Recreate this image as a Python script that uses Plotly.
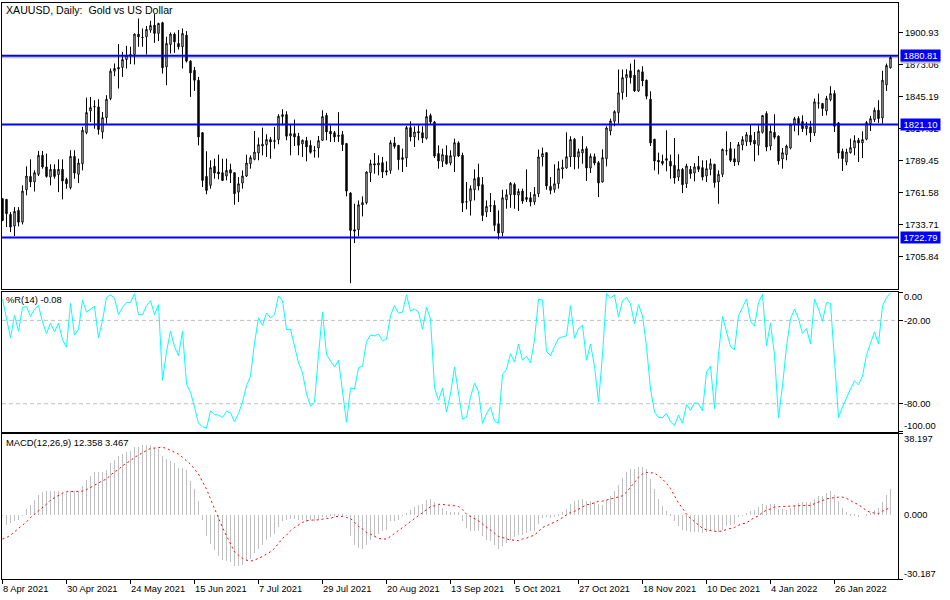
import plotly.graph_objects as go

# XAUUSD daily bars
opens = [
    1756.5,1755.9,1742.8,1732.7,1746.3,1736.1,1764.3,1775.9,1771.0,1777.7,
    1794.2,1784.1,1775.3,1782.0,1777.4,1782.0,1773.3,1766.1,1793.3,1777.7,
    1786.9,1813.9,1832.8,1836.3,1836.3,1814.5,1827.0,1843.6,1867.4,1870.6,
    1870.6,1877.5,1881.9,1881.9,1899.6,1896.9,1897.3,1903.1,1907.4,1900.2,
    1909.5,1871.1,1890.6,1899.6,1891.5,1888.6,1898.7,1876.1,1868.2,1859.5,
    1813.9,1775.9,1768.1,1784.6,1779.7,1779.1,1776.2,1781.7,1779.1,1762.2,
    1770.1,1776.2,1786.9,1790.7,1796.2,1802.3,1803.5,1807.9,1807.0,1807.9,
    1827.9,1829.6,1811.0,1813.1,1810.8,1804.1,1807.0,1802.9,1798.3,1800.6,
    1807.3,1829.0,1815.1,1813.9,1811.6,1812.2,1804.4,1761.4,1729.5,1729.5,
    1751.2,1753.0,1779.1,1786.9,1785.8,1787.8,1780.9,1781.1,1805.0,1802.9,
    1792.2,1791.9,1818.3,1810.2,1814.8,1813.9,1809.0,1828.8,1823.2,1795.7,
    1789.0,1794.2,1787.5,1793.3,1805.0,1794.2,1753.9,1754.7,1764.3,1775.0,
    1768.7,1744.9,1750.4,1750.7,1734.7,1726.9,1755.6,1759.9,1768.9,1759.7,
    1763.1,1757.6,1757.3,1753.6,1760.8,1792.8,1796.5,1767.2,1764.6,1769.5,
    1782.3,1783.2,1792.8,1808.2,1792.8,1796.2,1800.0,1783.2,1793.0,1787.8,
    1771.0,1791.3,1815.4,1823.8,1831.4,1848.8,1861.6,1867.7,1863.9,1850.2,
    1866.8,1859.5,1843.0,1808.2,1789.9,1789.0,1791.3,1789.0,1785.5,1775.3,
    1782.0,1769.5,1782.0,1778.8,1784.6,1783.5,1776.2,1782.0,1786.4,1771.0,
    1777.7,1798.3,1800.0,1791.3,1788.4,1803.2,1806.1,1811.6,1807.3,1802.9,
    1814.2,1830.5,1802.3,1814.2,1810.8,1791.0,1794.8,1800.6,1821.2,1826.4,
    1823.5,1817.4,1818.9,1813.7,1839.8,1839.2,1832.8,1842.7,1847.9,1822.4,
    1797.7,1788.4,1796.5,1800.6,1807.3,1805.0,1808.2,1821.8,1825.3,1833.4,
    1826.7,1855.5,1870.3,
]
highs = [
    1756.5,1755.9,1744.8,1749.2,1749.2,1768.1,1784.6,1790.7,1781.1,1798.0,
    1798.0,1795.7,1786.4,1786.4,1790.7,1790.7,1774.8,1798.6,1798.6,1791.3,
    1818.9,1844.4,1845.0,1842.1,1843.0,1831.9,1846.5,1869.7,1874.0,1890.9,
    1884.2,1889.4,1888.6,1900.2,1913.2,1904.5,1906.6,1911.2,1917.0,1909.5,
    1910.3,1897.3,1901.0,1901.0,1903.1,1904.5,1902.2,1876.9,1871.1,1862.4,
    1814.5,1797.7,1789.9,1791.3,1794.8,1791.3,1791.3,1786.9,1779.4,1775.3,
    1781.1,1794.8,1794.2,1815.4,1809.6,1818.3,1812.5,1810.2,1818.9,1829.9,
    1834.3,1832.5,1821.2,1825.3,1813.7,1807.9,1810.2,1807.3,1802.3,1811.0,
    1833.4,1831.1,1820.3,1815.4,1831.7,1815.4,1805.0,1762.2,1752.1,1755.0,
    1758.5,1780.3,1790.4,1796.2,1794.2,1792.8,1789.0,1807.3,1810.2,1803.2,
    1800.0,1819.8,1823.8,1819.5,1820.3,1819.5,1834.0,1830.5,1824.1,1802.9,
    1800.0,1802.9,1798.6,1808.7,1806.4,1796.5,1771.0,1768.1,1782.0,1786.9,
    1775.3,1755.0,1761.4,1755.0,1746.3,1764.3,1764.6,1771.0,1770.4,1765.2,
    1765.2,1782.0,1762.2,1766.6,1799.2,1800.9,1796.8,1775.3,1786.4,1789.0,
    1790.4,1814.2,1810.8,1809.3,1800.0,1810.8,1802.0,1795.7,1795.7,1789.3,
    1799.4,1819.5,1826.1,1833.4,1868.8,1868.8,1869.1,1874.0,1877.5,1868.8,
    1871.7,1860.1,1849.9,1808.4,1796.5,1794.8,1816.0,1794.8,1809.3,1795.1,
    1783.2,1786.9,1784.9,1787.5,1793.6,1789.9,1789.9,1791.3,1786.9,1781.1,
    1800.0,1815.1,1805.8,1800.0,1805.8,1810.8,1814.5,1821.2,1814.5,1820.3,
    1829.0,1832.5,1820.3,1829.9,1811.6,1800.6,1803.5,1821.8,1827.6,1828.2,
    1829.0,1823.2,1824.1,1843.6,1847.9,1839.8,1845.9,1854.3,1850.8,1823.2,
    1800.0,1800.0,1808.7,1811.6,1809.3,1815.1,1824.1,1828.5,1835.7,1842.1,
    1867.7,1874.0,1880.4,
]
lows = [
    1737.0,1731.8,1727.4,1724.0,1732.4,1734.1,1759.4,1766.6,1762.8,1776.2,
    1782.6,1774.8,1768.1,1773.9,1762.2,1755.9,1765.2,1764.6,1773.9,1770.1,
    1781.1,1812.5,1823.2,1817.4,1812.2,1808.7,1821.8,1842.1,1863.0,1852.3,
    1862.4,1869.7,1873.5,1873.2,1888.6,1888.6,1881.9,1900.8,1892.0,1893.5,
    1865.3,1855.2,1882.8,1883.3,1886.2,1869.7,1874.9,1845.0,1850.2,1802.9,
    1766.6,1760.3,1765.2,1773.9,1773.3,1772.1,1772.4,1770.1,1751.2,1753.6,
    1765.2,1775.3,1782.6,1789.9,1789.9,1794.2,1792.8,1791.3,1800.0,1803.8,
    1820.3,1807.3,1794.2,1802.3,1794.2,1792.8,1789.0,1795.7,1792.2,1792.2,
    1806.7,1807.3,1805.8,1805.8,1805.8,1798.0,1758.5,1683.0,1717.9,1723.7,
    1741.1,1751.5,1771.0,1778.2,1776.8,1774.5,1776.8,1778.2,1800.0,1781.7,
    1779.7,1784.1,1806.4,1801.5,1807.3,1805.0,1807.9,1821.2,1791.9,1782.6,
    1784.1,1786.1,1785.5,1779.7,1792.8,1744.9,1747.2,1741.9,1755.0,1763.7,
    1737.0,1740.5,1744.9,1728.3,1721.1,1723.7,1747.8,1748.6,1747.8,1745.8,
    1752.1,1753.6,1749.8,1751.2,1757.9,1784.6,1764.3,1760.3,1761.7,1765.2,
    1773.9,1782.6,1784.1,1782.0,1782.6,1786.9,1771.9,1778.8,1785.5,1757.9,
    1770.7,1784.6,1811.6,1819.5,1821.8,1842.7,1845.0,1856.6,1849.4,1849.4,
    1854.3,1843.0,1802.3,1781.1,1777.7,1785.5,1780.3,1773.9,1769.5,1771.9,
    1761.4,1765.8,1773.9,1771.6,1779.7,1772.4,1771.0,1776.8,1766.1,1752.1,
    1775.3,1794.2,1788.4,1784.9,1785.5,1798.6,1802.3,1802.9,1789.0,1794.2,
    1813.1,1797.7,1798.6,1808.2,1786.1,1782.6,1789.9,1799.4,1815.1,1811.6,
    1814.5,1811.6,1805.8,1811.0,1834.9,1828.5,1829.0,1841.2,1814.5,1791.3,
    1780.6,1785.5,1795.7,1794.2,1788.4,1791.9,1807.3,1815.4,1823.2,1822.4,
    1821.8,1850.2,1869.7,
]
closes = [
    1737.6,1743.4,1731.8,1745.4,1736.1,1763.1,1776.2,1771.0,1779.1,1794.2,
    1784.1,1775.9,1782.0,1775.9,1782.0,1771.9,1769.5,1793.3,1778.8,1787.5,
    1816.0,1831.4,1835.7,1836.6,1816.6,1827.0,1843.0,1867.4,1869.7,1869.4,
    1877.5,1881.3,1881.7,1899.6,1897.3,1896.7,1903.7,1907.1,1900.2,1908.9,
    1870.3,1891.5,1899.6,1892.9,1888.6,1900.2,1876.1,1865.9,1859.5,1810.2,
    1772.4,1763.7,1783.5,1778.8,1778.0,1772.4,1781.1,1778.8,1760.8,1769.5,
    1776.2,1787.5,1792.2,1797.1,1803.5,1803.8,1807.9,1805.8,1806.4,1828.2,
    1829.6,1810.8,1813.1,1810.2,1802.9,1807.3,1801.5,1796.8,1798.1,1807.0,
    1827.9,1814.5,1812.8,1810.2,1810.8,1803.5,1763.1,1728.9,1728.3,1751.2,
    1753.0,1779.7,1786.9,1785.8,1787.5,1779.7,1779.7,1805.2,1802.0,1790.4,
    1790.7,1818.3,1810.2,1814.5,1813.7,1809.3,1827.9,1823.2,1793.6,1789.3,
    1794.8,1786.9,1793.9,1805.2,1793.6,1752.7,1753.7,1765.2,1773.9,1767.5,
    1741.9,1749.8,1750.2,1733.3,1726.6,1757.3,1759.9,1769.8,1759.9,1762.8,
    1754.4,1755.9,1753.6,1760.3,1792.8,1795.7,1767.5,1763.7,1769.5,1782.6,
    1783.5,1793.0,1807.9,1792.8,1797.4,1799.4,1783.2,1793.3,1787.5,1770.1,
    1792.2,1818.0,1824.1,1832.2,1848.5,1861.8,1864.5,1861.8,1850.2,1868.2,
    1858.9,1845.6,1805.0,1789.3,1788.4,1787.2,1789.9,1784.9,1774.5,1782.0,
    1768.7,1784.9,1778.2,1784.1,1782.0,1775.3,1782.6,1786.9,1770.4,1777.7,
    1799.4,1798.1,1789.9,1788.4,1803.5,1807.9,1812.2,1805.8,1804.1,1815.1,
    1828.8,1801.5,1815.1,1809.9,1789.3,1796.5,1802.3,1821.2,1826.1,1821.8,
    1817.4,1819.8,1813.7,1840.7,1839.6,1834.9,1843.6,1847.9,1819.5,1796.2,
    1791.3,1797.1,1800.9,1807.0,1805.0,1807.9,1822.7,1826.1,1833.4,1826.1,
    1859.5,1872.3,1879.3,
]

# Williams %R(14)
wpr = [
    -4.7,-20.0,-32.5,-16.5,-27.8,-10.6,-10.1,-17.2,-11.8,-9.4,
    -21.2,-29.4,-21.9,-28.2,-21.9,-34.1,-39.3,-7.8,-30.6,-26.6,
    -5.4,-14.1,-11.8,-9.9,-32.5,-20.0,-3.5,-1.6,-4.0,-15.8,
    -10.6,-7.1,-7.1,-0.7,-15.8,-15.8,-9.4,-5.9,-15.8,-8.7,
    -63.1,-42.4,-27.8,-38.8,-45.4,-27.8,-65.9,-71.8,-82.4,-94.1,
    -96.5,-97.7,-85.2,-87.8,-88.2,-89.9,-85.4,-86.6,-93.0,-87.1,
    -78.8,-67.1,-60.0,-36.5,-18.1,-23.5,-14.8,-18.1,-15.8,-2.4,
    -5.9,-26.6,-26.4,-37.6,-50.6,-57.6,-73.0,-81.9,-78.8,-44.7,
    -14.1,-44.7,-48.7,-53.6,-48.7,-71.8,-93.4,-68.7,-69.4,-54.1,
    -53.0,-35.3,-30.6,-31.1,-29.9,-34.6,-33.6,-16.5,-9.4,-14.8,
    -14.1,-1.6,-13.4,-11.8,-14.1,-26.4,-10.6,-18.8,-68.2,-77.6,
    -68.7,-85.9,-73.0,-53.6,-74.1,-91.1,-89.9,-75.3,-65.2,-71.3,
    -94.1,-87.1,-82.4,-92.5,-94.1,-58.8,-55.3,-44.0,-50.1,-37.0,
    -48.7,-45.9,-50.6,-34.1,-4.7,-5.4,-42.4,-45.4,-38.8,-32.9,
    -31.8,-31.1,-9.4,-32.9,-25.9,-23.5,-48.7,-37.0,-53.0,-78.8,
    -44.7,-0.7,-4.0,-1.6,-17.6,-5.9,-3.5,-8.2,-22.4,-8.7,
    -16.5,-38.8,-69.4,-85.9,-89.9,-89.9,-87.1,-93.0,-95.8,-88.2,
    -94.1,-80.5,-84.7,-79.3,-80.0,-85.2,-57.2,-53.0,-83.5,-44.7,
    -17.2,-28.2,-38.8,-41.2,-16.5,-10.6,-4.7,-20.7,-24.2,-7.1,
    -1.2,-38.4,-21.9,-44.7,-89.9,-67.1,-38.8,-18.8,-11.8,-18.8,
    -29.4,-25.9,-37.0,-4.7,-11.8,-20.7,-7.1,-7.8,-53.0,-89.9,
    -82.4,-75.3,-69.4,-63.5,-66.4,-60.0,-44.7,-36.5,-28.2,-37.0,
    -9.4,-3.5,-0.08,
]

# MACD(12,26,9)
macd_hist = [
    -0.2,-4.4,-3.6,-2.8,-2.0,-0.2,3.1,5.0,7.1,9.7,
    11.0,11.3,11.6,11.6,11.6,10.5,10.5,11.3,11.3,11.3,
    13.6,16.5,18.6,20.4,20.4,20.4,21.5,24.6,26.2,27.7,
    29.0,29.9,30.2,32.0,32.1,32.8,32.8,32.8,31.7,31.3,
    28.0,26.5,25.7,24.6,22.3,22.3,21.2,16.0,12.4,6.6,
    -2.4,-9.6,-13.3,-16.5,-19.0,-21.2,-21.6,-22.1,-24.0,-24.0,
    -23.2,-21.6,-20.5,-17.7,-15.8,-13.8,-11.4,-10.2,-8.6,-5.5,
    -2.8,-2.0,-1.7,-1.7,-2.0,-2.4,-3.3,-2.4,-2.8,-2.0,
    -0.8,-0.8,0.6,0.3,0.6,0.3,-0.2,-9.6,-13.8,-15.4,
    -15.7,-13.8,-11.8,-10.3,-8.6,-7.5,-7.1,-2.8,-2.8,-2.0,
    -0.2,1.1,2.7,3.9,5.0,5.5,7.1,7.8,6.3,5.0,
    3.4,1.9,1.4,1.4,1.4,-2.8,-6.0,-7.2,-7.2,-7.5,
    -9.9,-11.4,-11.9,-13.8,-15.7,-14.6,-13.0,-11.4,-10.3,-9.1,
    -9.1,-8.3,-7.5,-7.2,-3.9,-1.3,-0.8,-1.3,-0.8,0.8,
    1.6,3.1,5.5,6.6,7.1,7.8,6.9,6.9,6.3,5.5,
    5.0,7.4,9.2,11.6,14.4,17.7,20.5,21.9,21.9,22.7,
    22.7,21.8,17.2,12.4,7.8,4.5,2.2,0.3,-2.8,-4.9,
    -7.1,-7.5,-7.8,-7.8,-8.0,-8.5,-7.8,-7.2,-7.5,-7.7,
    -6.7,-5.2,-4.4,-4.1,-0.8,-0.2,1.1,2.2,2.7,3.9,
    5.5,5.0,5.5,5.5,3.0,3.0,2.7,3.4,4.5,5.8,
    6.1,6.3,6.1,7.7,8.9,9.2,10.5,11.6,9.7,6.6,
    3.4,1.6,0.3,0.2,-0.8,0.0,0.3,1.1,2.7,3.4,
    6.4,9.7,12.358,
]
macd_signal = [
    -11.4,-10.7,-9.6,-8.0,-6.4,-5.2,-3.3,-1.3,0.3,1.6,
    3.4,5.0,6.9,8.1,9.2,10.2,10.8,11.0,11.0,11.0,
    11.1,11.8,12.8,13.6,14.9,16.0,16.8,18.6,20.2,21.2,
    23.0,24.3,25.4,27.0,28.2,29.3,30.2,31.2,31.3,31.7,
    31.7,31.2,30.4,29.3,28.5,27.0,25.4,23.8,21.5,19.1,
    15.5,12.1,7.4,2.7,-1.3,-6.0,-9.9,-13.8,-17.4,-19.0,
    -20.5,-21.3,-21.8,-21.3,-20.5,-19.6,-18.5,-17.4,-15.8,-13.3,
    -11.1,-9.6,-7.5,-6.0,-4.7,-3.6,-2.8,-2.5,-2.4,-2.4,
    -2.0,-1.7,-1.7,-0.9,-0.8,-0.8,-1.3,-1.7,-3.6,-5.5,
    -6.7,-8.3,-9.1,-10.2,-11.1,-11.4,-11.4,-10.2,-8.8,-7.2,
    -6.0,-4.7,-3.3,-1.7,-0.2,1.1,2.5,3.8,4.2,4.9,
    4.9,4.5,4.5,4.2,3.9,2.4,0.3,-0.8,-1.7,-2.8,
    -4.4,-6.0,-7.2,-8.6,-10.2,-10.7,-11.4,-11.9,-11.9,-12.2,
    -11.4,-11.0,-10.2,-9.6,-7.8,-6.0,-5.2,-4.4,-3.6,-2.5,
    -1.3,-0.2,1.1,1.6,2.7,3.4,4.7,5.0,5.8,6.3,
    6.4,6.9,7.1,7.7,8.3,8.9,10.7,12.8,15.2,17.6,
    19.3,19.9,19.9,19.6,18.3,16.8,14.7,12.4,8.9,5.5,
    3.1,0.3,-1.7,-3.3,-5.0,-6.3,-7.1,-7.5,-7.8,-7.8,
    -7.7,-6.9,-6.4,-6.0,-4.9,-4.2,-3.9,-2.4,-1.4,-0.5,
    1.1,2.2,2.7,3.6,3.8,3.9,3.9,4.2,4.4,4.5,
    4.5,4.4,4.4,5.2,6.0,6.7,7.5,7.8,8.1,8.3,
    8.3,7.7,6.6,5.8,4.7,3.4,1.9,1.1,0.8,0.5,
    1.7,2.5,3.467,
]

date_labels = ['8 Apr 2021', '30 Apr 2021', '24 May 2021', '15 Jun 2021', '7 Jul 2021',
               '29 Jul 2021', '20 Aug 2021', '13 Sep 2021', '5 Oct 2021', '27 Oct 2021',
               '18 Nov 2021', '10 Dec 2021', '4 Jan 2022', '26 Jan 2022']
price_ticks = [1900.93, 1873.06, 1845.19, 1817.32, 1789.45, 1761.58, 1733.71, 1705.84]
levels = [1880.81, 1821.10, 1722.79]
bid_price = 1879.3
wpr_levels = [-20, -80]

bars = list(range(len(closes)))
date_ticks = bars[::16][:len(date_labels)]

FONT = 'Liberation Sans'
SIZE = 9.4
X_RANGE = [-0.125, 223.875]


def panel_domain(top, bottom):
    return [1 - bottom / 600, 1 - top / 600]


def frame_axis(**kwargs):
    return dict(showline=True, linecolor='black', linewidth=1, mirror=True,
                showgrid=False, zeroline=False, **kwargs)


def side_label(text, y, yref, yshift=0):
    return dict(text=text, x=1, xref='paper', xanchor='left', xshift=4, y=y, yref=yref,
                yanchor='middle', yshift=yshift, showarrow=False,
                font=dict(family=FONT, size=SIZE, color='black'))


def corner_label(text, top, size=SIZE):
    return dict(text=text, x=0, xref='paper', xanchor='left', xshift=2, y=1 - top / 600, yref='paper',
                yanchor='middle', showarrow=False,
                font=dict(family=FONT, size=size, color='black'))


def price_tag(price, fill, ink):
    return dict(text='%.2f' % price, x=1, xref='paper', xanchor='left', xshift=2,
                y=price, yref='y', showarrow=False, bgcolor=fill, borderpad=0,
                width=39, height=11, align='center',
                font=dict(family=FONT, size=SIZE, color=ink))


fig = go.Figure()

fig.add_trace(go.Candlestick(
    x=bars, open=opens, high=highs, low=lows, close=closes,
    increasing=dict(line=dict(color='black', width=1), fillcolor='white'),
    decreasing=dict(line=dict(color='black', width=1), fillcolor='black'),
    whiskerwidth=0, showlegend=False, xaxis='x', yaxis='y',
))
fig.add_trace(go.Scatter(
    x=bars, y=wpr, mode='lines', line=dict(color='#00ffff', width=1),
    showlegend=False, xaxis='x2', yaxis='y2',
))
fig.add_trace(go.Bar(
    x=bars, y=macd_hist, width=0.25, marker=dict(color='#c0c0c0', line=dict(width=0)),
    showlegend=False, xaxis='x3', yaxis='y3',
))
fig.add_trace(go.Scatter(
    x=bars, y=macd_signal, mode='lines', line=dict(color='#ff0000', width=1, dash='2px,3px'),
    showlegend=False, xaxis='x3', yaxis='y3',
))

shapes = [dict(type='line', xref='x domain', x0=0, x1=1, yref='y', y0=bid_price, y1=bid_price,
               line=dict(color='#c0c0c0', width=1.5), layer='below')]
for level in levels:
    shapes.append(dict(type='line', xref='x domain', x0=0, x1=1, yref='y', y0=level, y1=level,
                       line=dict(color='#0000ff', width=2)))
for level in wpr_levels:
    shapes.append(dict(type='line', xref='x2 domain', x0=0, x1=1, yref='y2', y0=level, y1=level,
                       line=dict(color='#c0c0c0', width=1, dash='4px,3px'), layer='below'))

annotations = [
    corner_label('XAUUSD, Daily:  Gold vs US Dollar', 10, size=10.6),
    corner_label('%R(14) -0.08', 299.5),
    corner_label('MACD(12,26,9) 12.358 3.467', 442.5),
    side_label('0.00', 0, 'y2', yshift=-4),
    side_label('-20.00', -20, 'y2'),
    side_label('-80.00', -80, 'y2'),
    side_label('-100.00', -100, 'y2', yshift=6),
    side_label('38.197', 38.197, 'y3', yshift=-5),
    side_label('0.000', 0, 'y3'),
    side_label('-30.187', -30.187, 'y3', yshift=6),
]
# bid price tag sits under the level tags
annotations.append(price_tag(bid_price, '#c0c0c0', '#c0c0c0'))
for level in levels:
    annotations.append(price_tag(level, '#0000ff', 'white'))
for pos, label in zip(date_ticks, date_labels):
    annotations.append(dict(text=label, x=pos, xref='x3', xanchor='left', xshift=-2,
                            y=1 - 588 / 600, yref='paper', yanchor='middle', showarrow=False,
                            font=dict(family=FONT, size=SIZE, color='black')))

fig.update_layout(
    width=950, height=600, autosize=False,
    margin=dict(l=2, r=52, t=0, b=0, pad=0),
    paper_bgcolor='white', plot_bgcolor='white',
    font=dict(family=FONT, size=SIZE, color='black'),
    showlegend=False, bargap=0, boxgap=0.5,
    shapes=shapes, annotations=annotations,
    xaxis=frame_axis(domain=[0, 1], range=X_RANGE, rangeslider=dict(visible=False),
                     anchor='y', showticklabels=False, ticks=''),
    xaxis2=frame_axis(domain=[0, 1], range=X_RANGE, anchor='y2', showticklabels=False, ticks=''),
    xaxis3=frame_axis(domain=[0, 1], range=X_RANGE, anchor='y3', showticklabels=False,
                      ticks='outside', ticklen=4, tickcolor='black', tickvals=date_ticks),
    yaxis=frame_axis(domain=panel_domain(2.5, 288.5), range=[1678.4, 1927.1], side='right',
                     anchor='x', ticks='outside', ticklen=4, tickcolor='black',
                     tickvals=price_ticks, ticktext=['%.2f' % p for p in price_ticks],
                     tickfont=dict(family=FONT, size=SIZE, color='black')),
    yaxis2=frame_axis(domain=panel_domain(291.5, 431.5), range=[-100, 0.8], side='right',
                      anchor='x2', ticks='outside', ticklen=4, tickcolor='black',
                      tickvals=[0, -20, -80, -100], showticklabels=False),
    yaxis3=frame_axis(domain=panel_domain(433.5, 579), range=[-30.187, 38.197], side='right',
                      anchor='x3', ticks='outside', ticklen=4, tickcolor='black',
                      tickvals=[38.197, -30.187], showticklabels=False),
)

fig.write_html("out.html", post_script="document.body.style.margin='0';",
               config={'displayModeBar': False})
